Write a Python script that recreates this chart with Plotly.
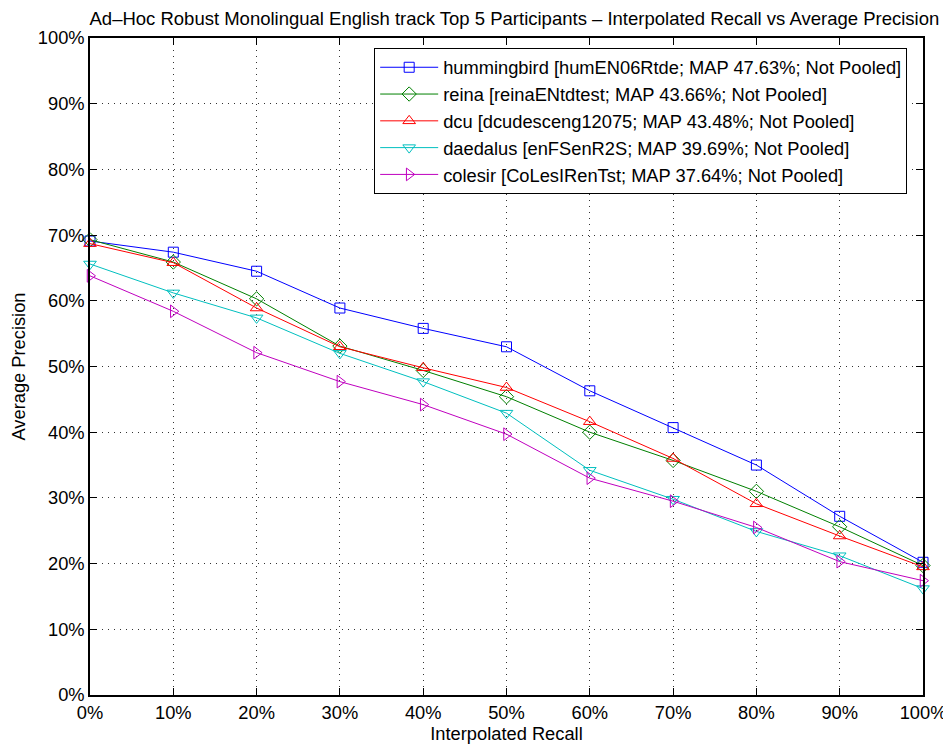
import plotly.graph_objects as go

recall = [0, 10, 20, 30, 40, 50, 60, 70, 80, 90, 100]
tick_labels = ["0%", "10%", "20%", "30%", "40%", "50%", "60%", "70%", "80%", "90%", "100%"]

names = [
    "hummingbird [humEN06Rtde; MAP 47.63%; Not Pooled]",
    "reina [reinaENtdtest; MAP 43.66%; Not Pooled]",
    "dcu [dcudesceng12075; MAP 43.48%; Not Pooled]",
    "daedalus [enFSenR2S; MAP 39.69%; Not Pooled]",
    "colesir [CoLesIRenTst; MAP 37.64%; Not Pooled]",
]
hummingbird = [69.1, 67.4, 64.5, 58.9, 55.8, 53.0, 46.3, 40.7, 35.0, 27.2, 20.2]
reina = [69.3, 65.9, 60.3, 53.1, 49.4, 45.4, 40.0, 35.7, 31.0, 25.6, 19.7]
dcu = [68.7, 65.8, 58.9, 53.0, 49.8, 46.8, 41.6, 36.0, 29.1, 24.2, 19.5]
daedalus = [65.6, 61.2, 57.4, 52.0, 47.7, 42.9, 34.2, 29.8, 24.9, 21.2, 16.2]
colesir = [63.8, 58.4, 52.1, 47.7, 44.2, 39.7, 33.0, 29.5, 25.5, 20.3, 17.4]

series = [hummingbird, reina, dcu, daedalus, colesir]
colors = ["#0000ff", "#008000", "#ff0000", "#00bfbf", "#bf00bf"]
symbols = ["square-open", "diamond-open", "triangle-up-open", "triangle-down-open", "triangle-right-open"]
sizes = [10, 11, 11, 11, 11]

FAM = "Liberation Sans, Arial, sans-serif"
FS = 18.3

fig = go.Figure()
for name, vals, c, s, sz in zip(names, series, colors, symbols, sizes):
    fig.add_trace(go.Scatter(
        x=recall, y=vals, name=name, mode="lines+markers",
        line=dict(color=c, width=1),
        marker=dict(symbol=s, size=sz, color=c, line=dict(color=c, width=1)),
        cliponaxis=False,
    ))

font = dict(family=FAM, size=FS, color="black")
axis_common = dict(
    showline=True, linecolor="black", linewidth=1.5, mirror="ticks",
    ticks="inside", ticklen=7, tickcolor="black",
    showgrid=True, gridcolor="rgba(0,0,0,0.8)", gridwidth=1, griddash="1px,5px",
    zeroline=False, tickfont=font, automargin=False, ticklabeloverflow="allow",
)
fig.update_xaxes(range=[0, 100], tickvals=recall, ticktext=tick_labels,
                 title=dict(text="Interpolated Recall", font=font, standoff=0), **axis_common)
fig.update_yaxes(range=[0, 100], tickvals=recall, ticktext=tick_labels,
                 title=dict(text="Average Precision", font=font, standoff=10), **axis_common)

# page body adds an 8px offset; margins compensate so the plot area lands at 90..923 x 38..695
fig.update_layout(
    width=943, height=736,
    margin=dict(l=82, r=28, t=30, b=49),
    paper_bgcolor="white", plot_bgcolor="white",
    font=font,
    title=dict(text="Ad\u2013Hoc Robust Monolingual English track Top 5 Participants \u2013 Interpolated Recall vs Average Precision",
               x=0.537, xanchor="center", y=0.994, yanchor="top", font=dict(family=FAM, size=18.5)),
    legend=dict(x=0.981, xanchor="right", y=0.985, yanchor="top",
                bordercolor="black", borderwidth=1, bgcolor="white",
                font=dict(family=FAM, size=FS),
                itemwidth=58, tracegroupgap=0),
    showlegend=True,
)

fig.write_html("out.html")
